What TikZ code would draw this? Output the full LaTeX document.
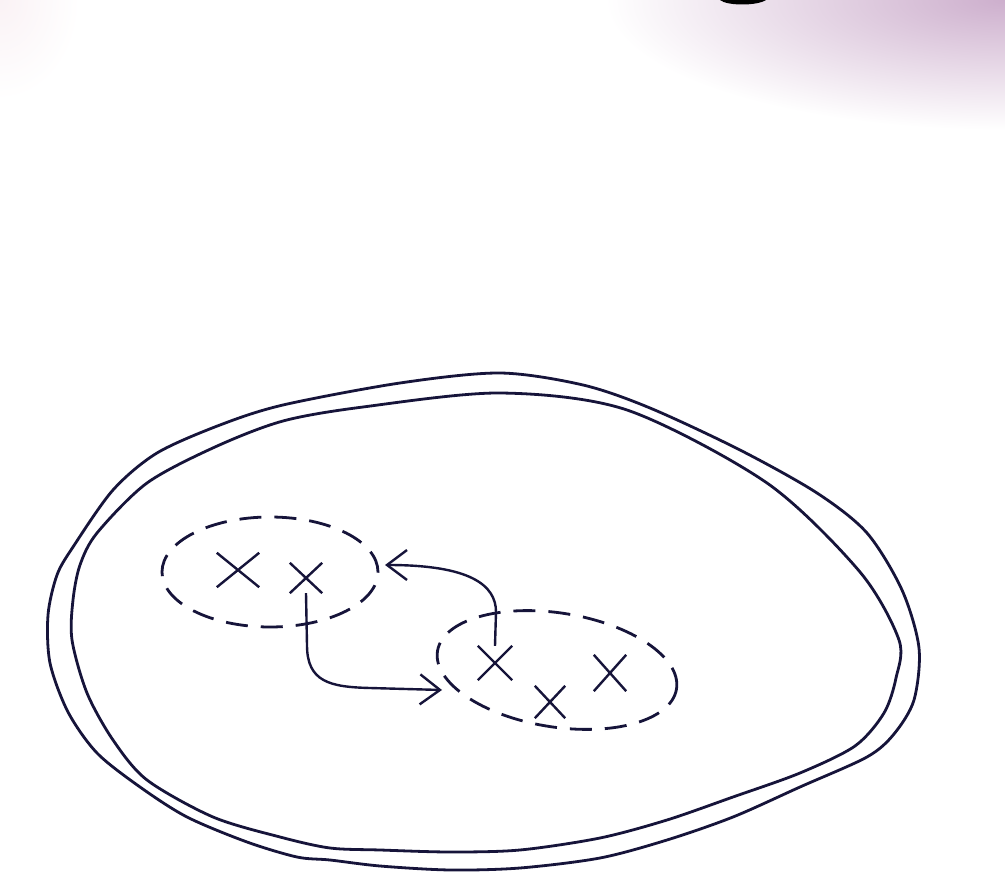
\documentclass[tikz,border=0pt]{standalone}
\usetikzlibrary{shapes.geometric,shapes.misc,arrows.meta}
\definecolor{ink}{RGB}{22,20,58}
\definecolor{mauve}{RGB}{205,175,205}
\definecolor{blush}{RGB}{250,242,245}
\begin{document}
\begin{tikzpicture}[x=1pt,y=-1pt,
  oval/.style={draw=ink,line width=2.8pt,line join=round},
  group/.style={ellipse,draw=ink,line width=2.8pt,dash pattern=on 22pt off 13pt,inner sep=0pt},
  crossmark/.style={cross out,draw=ink,line width=2.4pt,inner sep=0pt},
  arr/.style={draw=ink,line width=2.4pt,-{Straight Barb[length=20pt,width=30pt,line width=2.4pt]}}]
\useasboundingbox (0,0) rectangle (1005,877);
\fill[white] (0,0) rectangle (1005,877);
\begin{scope}
  \clip (0,0) rectangle (1005,877);
  \shade[inner color=mauve,outer color=white] (1005,0) ellipse [x radius=400,y radius=130];
  \shade[inner color=blush,outer color=white] (0,0) ellipse [x radius=80,y radius=100];
\end{scope}
\fill[black] (720,0) .. controls (727,6) and (757,6) .. (766,0) -- cycle;
% outer and inner boundary
\draw[oval] plot[smooth cycle,tension=0.5] coordinates {
 (48,615) (57,575) (73,547) (113,490) (157,453) (220,425) (283,405) (400,383)
 (500,373) (583,385) (650,408) (740,450) (817,493) (867,533) (902,590) (919,648)
 (914,700) (894,734) (867,757) (800,787) (733,817) (667,840) (600,858) (520,868)
 (450,870) (380,866) (330,860) (297,857) (247,842) (187,817) (140,787) (97,753)
 (68,712) (50,663)};
\draw[oval] plot[smooth cycle,tension=0.5] coordinates {
 (72,640) (73,600) (80,565) (97,533) (147,483) (215,447) (283,421) (363,407)
 (500,393) (627,410) (767,483) (860,572) (899,640) (896,678) (884,713) (855,746)
 (800,773) (733,797) (667,820) (600,838) (520,850) (450,852) (380,850) (330,848)
 (280,837) (213,817) (147,780) (113,740) (87,693)};
% groups
\node[group,minimum width=216pt,minimum height=110pt] (g1) at (270,572) {};
\node[group,minimum width=242pt,minimum height=114pt,rotate=-9] (g2) at (557,670) {};
% points
\node[crossmark,minimum width=40pt,minimum height=32pt] (x1) at (238,570) {};
\node[crossmark,minimum width=30pt,minimum height=28pt] (x2) at (306,578) {};
\node[crossmark,minimum width=32pt,minimum height=32pt] (x3) at (495,663) {};
\node[crossmark,minimum width=28pt,minimum height=30pt] (x4) at (550,702) {};
\node[crossmark,minimum width=30pt,minimum height=34pt] (x5) at (610,673) {};
% arrows
\coordinate (t1) at (442,690);
\coordinate (t2) at (385,565);
\draw[arr] (x2.south) -- (307,645) .. controls (307,682) and (330,687) .. (370,688) -- (t1);
\draw[arr] (x3.north) -- (496,612) .. controls (496,585) and (470,565) .. (t2);
\end{tikzpicture}
\end{document}
